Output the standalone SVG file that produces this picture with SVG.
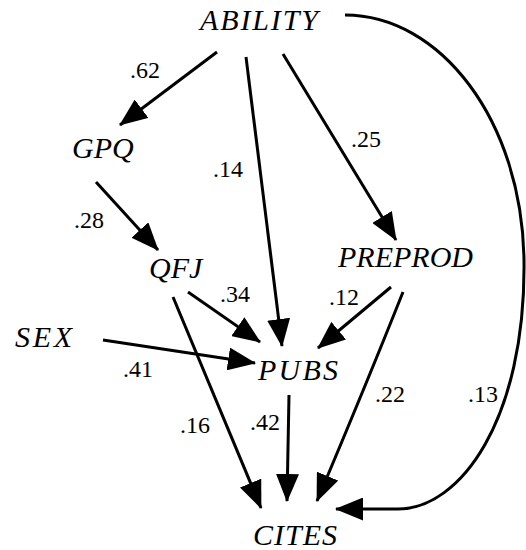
<svg xmlns="http://www.w3.org/2000/svg" width="526" height="550" viewBox="0 0 526 550">
<style>
.c{fill:none;stroke:#000;stroke-width:3}
.n{font-family:"Liberation Serif",serif;font-style:italic;font-size:30px}
.l{font-family:"Liberation Serif",serif;font-size:24px}
</style>
<defs>
<marker id="ah" markerUnits="userSpaceOnUse" viewBox="0 0 28 23" markerWidth="28" markerHeight="23" refX="27" refY="11.5" orient="auto">
<path d="M0,0 L28,11.5 L0,23 Z" fill="#000"/>
</marker>
</defs>
<rect width="526" height="550" fill="#fff"/>
<g id="connectors">
<path class="c" marker-end="url(#ah)" d="M217,52 L120,125"/>
<path class="c" marker-end="url(#ah)" d="M246,57 L282,346"/>
<path class="c" marker-end="url(#ah)" d="M283,54 L396,240"/>
<path class="c" marker-end="url(#ah)" d="M96,182 L158,250"/>
<path class="c" marker-end="url(#ah)" d="M188,292 L260,342"/>
<path class="c" marker-end="url(#ah)" d="M103,340 L255,363"/>
<path class="c" marker-end="url(#ah)" d="M391,287 L318,348"/>
<path class="c" marker-end="url(#ah)" d="M173,297 L261,508"/>
<path class="c" marker-end="url(#ah)" d="M289,395 L287,501"/>
<path class="c" marker-end="url(#ah)" d="M403,292 Q368,380 317,501"/>
<path class="c" marker-end="url(#ah)" d="M345,15 C440,15 522,120 524,260 C526,420 460,509 398,509 L336,509"/>
</g>
<g id="ABILITY"><text class="n" x="200" y="30" textLength="118" lengthAdjust="spacing">ABILITY</text></g>
<g id="GPQ"><text class="n" x="72" y="158">GPQ</text></g>
<g id="QFJ"><text class="n" x="149" y="278">QFJ</text></g>
<g id="PREPROD"><text class="n" x="338" y="267">PREPROD</text></g>
<g id="SEX"><text class="n" x="15" y="347" textLength="57" lengthAdjust="spacing">SEX</text></g>
<g id="PUBS"><text class="n" x="258" y="380" textLength="80" lengthAdjust="spacing">PUBS</text></g>
<g id="CITES"><text class="n" x="253" y="545" textLength="84" lengthAdjust="spacing">CITES</text></g>
<g id="labels">
<text class="l" x="130" y="78">.62</text>
<text class="l" x="213" y="177">.14</text>
<text class="l" x="74" y="228">.28</text>
<text class="l" x="351" y="147">.25</text>
<text class="l" x="220" y="302">.34</text>
<text class="l" x="329" y="305">.12</text>
<text class="l" x="123" y="377">.41</text>
<text class="l" x="180" y="433">.16</text>
<text class="l" x="250" y="430">.42</text>
<text class="l" x="375" y="402">.22</text>
<text class="l" x="468" y="402">.13</text>
</g>
</svg>
